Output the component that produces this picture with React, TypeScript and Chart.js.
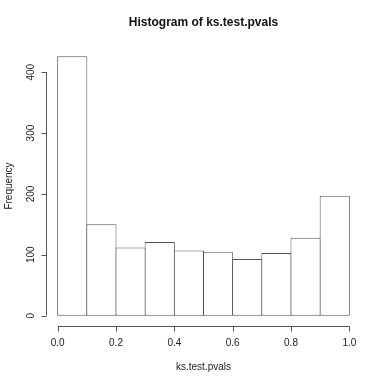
import React, { useEffect, useRef } from "react";
import { Chart, registerables } from "chart.js";

Chart.register(...registerables);

const binCenters = [0.05, 0.15, 0.25, 0.35, 0.45, 0.55, 0.65, 0.75, 0.85, 0.95];
const frequencies = [426, 150, 112, 121, 107, 104, 93, 103, 128, 197];
const xTicks = [0, 0.2, 0.4, 0.6, 0.8, 1.0];
const xTickLabels = ["0.0", "0.2", "0.4", "0.6", "0.8", "1.0"];
const yTicks = [0, 100, 200, 300, 400];
const yTickLabels = ["0", "100", "200", "300", "400"];

const TITLE = "Histogram of ks.test.pvals";
const X_TITLE = "ks.test.pvals";
const Y_TITLE = "Frequency";

const FONT = '"Liberation Sans", Arial, sans-serif';
const LINE = "#555555";
const TEXT = "#222222";

const axesPlugin = {
  id: "rAxes",
  afterDraw(chart: any) {
    const ctx = chart.ctx;
    const xs = chart.scales.x;
    const ys = chart.scales.y;
    const area = chart.chartArea;
    const tick = 5;
    ctx.save();
    ctx.strokeStyle = LINE;
    ctx.lineWidth = 1;
    // x axis
    const xAxisY = Math.round(area.bottom) + 0.5;
    ctx.beginPath();
    ctx.moveTo(xs.getPixelForValue(xTicks[0]), xAxisY);
    ctx.lineTo(xs.getPixelForValue(xTicks[xTicks.length - 1]), xAxisY);
    xTicks.forEach((v) => {
      const px = Math.round(xs.getPixelForValue(v)) + 0.5;
      ctx.moveTo(px, xAxisY);
      ctx.lineTo(px, xAxisY + tick);
    });
    ctx.stroke();
    // y axis
    const yAxisX = Math.round(area.left) + 0.5;
    ctx.beginPath();
    ctx.moveTo(yAxisX, ys.getPixelForValue(yTicks[0]));
    ctx.lineTo(yAxisX, ys.getPixelForValue(yTicks[yTicks.length - 1]));
    yTicks.forEach((v) => {
      const py = Math.round(ys.getPixelForValue(v)) + 0.5;
      ctx.moveTo(yAxisX, py);
      ctx.lineTo(yAxisX - tick, py);
    });
    ctx.stroke();

    ctx.fillStyle = TEXT;
    ctx.font = `10px ${FONT}`;
    ctx.textAlign = "center";
    ctx.textBaseline = "middle";
    xTicks.forEach((v, i) => {
      ctx.fillText(xTickLabels[i], xs.getPixelForValue(v), 343.5);
    });
    yTicks.forEach((v, i) => {
      ctx.save();
      ctx.translate(31, ys.getPixelForValue(v));
      ctx.rotate(-Math.PI / 2);
      ctx.fillText(yTickLabels[i], 0, 0);
      ctx.restore();
    });
    const cx = (area.left + area.right) / 2;
    const cy = (area.top + area.bottom) / 2;
    ctx.fillText(X_TITLE, cx, 367);
    ctx.save();
    ctx.translate(9, cy);
    ctx.rotate(-Math.PI / 2);
    ctx.fillText(Y_TITLE, 0, 0);
    ctx.restore();
    ctx.font = `bold 12px ${FONT}`;
    ctx.fillStyle = "#111111";
    ctx.fillText(TITLE, cx, 23);
    ctx.restore();
  },
};

export default function App() {
  const ref = useRef<HTMLCanvasElement>(null);
  useEffect(() => {
    document.body.style.margin = "0";
    const canvas = ref.current!;
    const chart = new Chart(canvas, {
      type: "bar",
      data: {
        datasets: [
          {
            data: binCenters.map((x, i) => ({ x, y: frequencies[i] })),
            backgroundColor: "#ffffff",
            borderColor: LINE,
            borderWidth: 1,
            borderSkipped: false,
            barPercentage: 1.0343,
            categoryPercentage: 1,
          },
        ],
      },
      options: {
        animation: false,
        responsive: false,
        devicePixelRatio: 1,
        layout: { padding: { left: 46, right: 24, top: 46, bottom: 58 } },
        plugins: { legend: { display: false }, tooltip: { enabled: false }, title: { display: false } },
        scales: {
          x: { type: "linear", min: -0.04, max: 1.04, offset: false, display: false, grid: { offset: false } },
          y: { type: "linear", min: -17.04, max: 443.04, display: false },
        },
      },
      plugins: [axesPlugin],
    });
    return () => chart.destroy();
  }, []);
  return (
    <div style={{ position: "absolute", left: 0, top: 0, width: 385, height: 384, background: "#fff" }}>
      <canvas ref={ref} width={385} height={384} />
    </div>
  );
}
